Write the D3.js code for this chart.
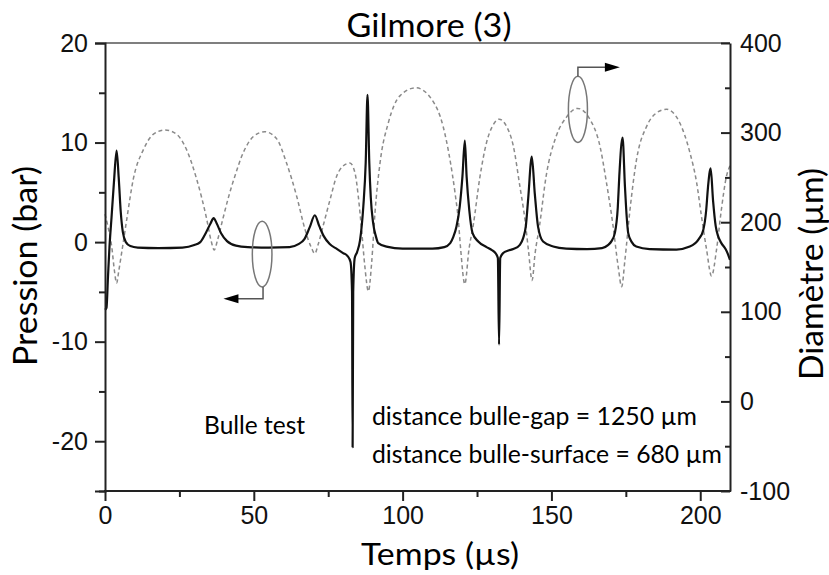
<!DOCTYPE html>
<html lang="fr">
<head>
  <meta charset="UTF-8">
  <title>Gilmore (3)</title>
  <script src="https://d3js.org/d3.v7.min.js"></script>
  <style>
    body { margin: 0; background: #fff; }
    svg { display: block; }
    .tick text { font-family: "Liberation Sans", Arial, sans-serif; font-size: 25px; fill: #111; }
    .axis path, .axis line { stroke: #222; stroke-width: 2px; }
    .lbl { font-family: Lato, "Open Sans", sans-serif; fill: #000; }
  </style>
</head>
<body>
<div id="chart"></div>
<script>
  // Temps (µs) / Pression (bar) : courbe pleine
  const pressure = [
    [0,-6.8],[0.5,-6.6],[1.0,-3.5],[1.5,-0.5],[2.2,2.5],[3.0,6.0],[3.9,9.2],[4.6,6.5],[5.3,3.0],[6.0,1.0],
    [7.0,0.0],[8.5,-0.4],[11,-0.55],[18,-0.6],[26,-0.55],[30,-0.3],[32,0.0],[34,1.0],[35.5,1.9],[36.5,2.4],
    [37.5,1.9],[39,0.9],[41,0.1],[44,-0.35],[48,-0.5],[55,-0.55],[62,-0.5],[65,-0.2],[67,0.3],[68.8,1.5],
    [70.5,2.7],[72,1.6],[73.5,0.6],[75.5,-0.2],[78,-0.7],[80,-1.1],[81.5,-1.4],[82.5,-2.0],[83.0,-5],[83.2,-20.6],
    [83.4,-5],[83.9,-1.6],[84.7,-1.0],[85.7,0.2],[86.8,3.6],[87.6,8],[88.2,14.8],[88.8,8],[89.3,4.5],[90.1,1.9],
    [91,0.6],[91.8,-0.1],[94.6,-0.45],[100,-0.65],[110,-0.65],[114,-0.5],[116,-0.1],[117,0.5],[118.1,1.56],[119.2,3.6],
    [120.1,6.6],[120.9,10.2],[121.5,6.6],[122.4,3.2],[123.5,0.9],[125.4,0.06],[128.2,-0.5],[130,-0.8],[131.2,-1.1],[132.0,-1.6],
    [132.4,-10.3],[132.8,-1.6],[133.8,-1.1],[135.5,-0.85],[137.2,-0.7],[139.4,-0.27],[140.5,0.4],[141.4,1.6],[142.2,4.4],[143.4,8.6],
    [144.4,4.9],[145.5,1.56],[147.2,0.06],[150.6,-0.44],[155,-0.65],[162,-0.7],[167,-0.6],[169,-0.3],[170.2,0.1],[171.3,0.9],
    [172.3,3.5],[172.8,6.6],[173.9,10.5],[174.7,5.6],[175.3,2.5],[175.8,0.9],[177,0],[178.5,-0.45],[183,-0.7],[192,-0.75],
    [196.5,-0.45],[199.5,0.3],[201,1.2],[202,3.2],[202.6,5.5],[203.5,7.4],[204.3,4.2],[205.2,1.6],[206,0.6],[207.1,-0.1],
    [208.5,-0.7],[209.3,-1.2],[210,-1.8]
  ];

  // Temps (µs) / Diamètre (µm) : courbe pointillée
  const diameter = [
    [0,209],[1,195],[2.25,173],[3.2,145],[3.9,132],[4.6,145],[5.6,166],[7.3,203],[9.5,248],[12.9,281],
    [16.2,298],[20.2,303],[24.1,298],[27.4,281],[30.8,248],[34.2,203],[35.6,180],[36.7,169],[37.8,180],[39.7,205],
    [41.5,228],[43.5,250],[46.5,278],[50,296],[53.7,301],[57.7,293],[61,266],[64.4,229],[67.2,192],[69.3,172],
    [70.5,165],[71.6,175],[73.3,196],[75.6,225],[77.8,251],[80.1,263],[82.3,266],[84,255],[85.1,229],[86.2,192],
    [87.3,151],[88.5,123],[89.6,155],[90.7,210],[92.4,266],[95.2,311],[99.1,341],[104.4,350],[109.8,337],[113.6,307],
    [115.9,270],[117.6,233],[118.7,203],[119.5,170],[120.9,131],[122.3,170],[123.7,196],[126,251],[128.2,289],[130.5,309],
    [132.4,315],[134.9,307],[137.2,285],[139.4,240],[141.1,203],[142.3,168],[143.5,135],[144.5,165],[146,196],[148.2,251],
    [151.6,296],[155,317],[158.8,327],[162.9,315],[166.3,285],[168.5,244],[170.7,196],[172.4,151],[173.6,128],[174.7,158],
    [176.4,214],[178.6,270],[182,307],[185.3,322],[188.7,326],[193.1,311],[196.5,278],[198.8,244],[200.4,207],[202.1,170],
    [203.8,140],[205.5,170],[207.1,214],[208.8,251],[210,263]
  ];

  const xTicks = [0, 50, 100, 150, 200];
  const xMinor = [25, 75, 125, 175];
  const yLeftTicks = [-20, -10, 0, 10, 20];
  const yLeftMinor = [-25, -15, -5, 5, 15];
  const yRightTicks = [-100, 0, 100, 200, 300, 400];
  const yRightMinor = [-50, 50, 150, 250, 350];

  const width = 829, height = 575;
  const margin = {top: 43, right: 99, bottom: 84, left: 105};
  const plain = d => String(d);   // trait d'union simple, comme l'original

  const svg = d3.select("#chart").append("svg")
    .attr("width", width)
    .attr("height", height);

  const x = d3.scaleLinear().domain([0, 210]).range([margin.left, width - margin.right]);
  const yL = d3.scaleLinear().domain([-25, 20]).range([height - margin.bottom, margin.top]);
  const yR = d3.scaleLinear().domain([-100, 400]).range([height - margin.bottom, margin.top]);

  // cadre du haut
  svg.append("line")
    .attr("x1", x(0)).attr("x2", x(210))
    .attr("y1", yL(20)).attr("y2", yL(20))
    .attr("stroke", "#555").attr("stroke-width", 1.5);

  // courbes
  const lineD = d3.line().x(d => x(d[0])).y(d => yR(d[1])).curve(d3.curveMonotoneX);
  const lineP = d3.line().x(d => x(d[0])).y(d => yL(d[1])).curve(d3.curveMonotoneX);

  svg.append("path")
    .datum(diameter)
    .attr("fill", "none")
    .attr("stroke", "#8a8a8a")
    .attr("stroke-width", 1.5)
    .attr("stroke-dasharray", "4,3")
    .attr("d", lineD);

  svg.append("path")
    .datum(pressure)
    .attr("fill", "none")
    .attr("stroke", "#111")
    .attr("stroke-width", 2.2)
    .attr("stroke-linejoin", "round")
    .attr("d", lineP);

  // axes
  const gx = svg.append("g").attr("class", "axis")
    .attr("transform", `translate(0,${yL(-25)})`);
  gx.call(d3.axisBottom(x).tickValues(xTicks).tickFormat(plain).tickSize(10).tickPadding(5));
  gx.call(g => g.select(".domain").attr("d", `M${x(0) - 1},0H${x(210) + 1}`));
  svg.append("g").attr("class", "axis")
    .attr("transform", `translate(0,${yL(-25)})`)
    .call(d3.axisBottom(x).tickValues(xMinor).tickSize(6).tickFormat(""))
    .call(g => g.select(".domain").remove());

  svg.append("g").attr("class", "axis")
    .attr("transform", `translate(${x(0)},0)`)
    .call(d3.axisLeft(yL).tickValues(yLeftTicks).tickFormat(plain).tickSize(10).tickPadding(7));
  svg.append("g").attr("class", "axis")
    .attr("transform", `translate(${x(0)},0)`)
    .call(d3.axisLeft(yL).tickValues(yLeftMinor).tickSize(6).tickFormat(""))
    .call(g => g.select(".domain").remove());

  svg.append("g").attr("class", "axis")
    .attr("transform", `translate(${x(210)},0)`)
    .call(d3.axisRight(yR).tickValues(yRightTicks).tickFormat(plain).tickSizeInner(-9).tickSizeOuter(0).tickPadding(10));
  svg.append("g").attr("class", "axis")
    .attr("transform", `translate(${x(210)},0)`)
    .call(d3.axisRight(yR).tickValues(yRightMinor).tickSizeInner(-5).tickSizeOuter(0).tickFormat(""))
    .call(g => g.select(".domain").remove());

  // titres
  svg.append("text").attr("class", "lbl")
    .attr("x", 429).attr("y", 37)
    .attr("text-anchor", "middle")
    .attr("font-size", 33)
    .attr("textLength", 165).attr("lengthAdjust", "spacingAndGlyphs")
    .text("Gilmore (3)");

  svg.append("text").attr("class", "lbl")
    .attr("x", 440).attr("y", 565)
    .attr("text-anchor", "middle")
    .attr("font-size", 30)
    .attr("textLength", 158).attr("lengthAdjust", "spacingAndGlyphs")
    .text("Temps (µs)");

  svg.append("text").attr("class", "lbl")
    .attr("transform", "translate(37,266) rotate(-90)")
    .attr("text-anchor", "middle")
    .attr("font-size", 32)
    .attr("textLength", 200).attr("lengthAdjust", "spacingAndGlyphs")
    .text("Pression (bar)");

  svg.append("text").attr("class", "lbl")
    .attr("transform", "translate(823,274) rotate(-90)")
    .attr("text-anchor", "middle")
    .attr("font-size", 33)
    .attr("textLength", 212).attr("lengthAdjust", "spacingAndGlyphs")
    .text("Diamètre (µm)");

  // annotations
  const notes = [
    {text: "Bulle test", t: 33.3, p: -19.3, len: 101},
    {text: "distance bulle-gap = 1250 µm", t: 89.7, p: -18.4, len: 325},
    {text: "distance bulle-surface = 680 µm", t: 89.7, p: -22.2, len: 350}
  ];
  svg.selectAll(".note").data(notes).enter().append("text")
    .attr("class", "lbl note")
    .attr("x", d => x(d.t)).attr("y", d => yL(d.p))
    .attr("font-size", 25)
    .attr("textLength", d => d.len).attr("lengthAdjust", "spacingAndGlyphs")
    .text(d => d.text);

  // ellipses + flèches
  const leftMark = {t: 52.8, p: -1.2, rt: 3.3, rp: 3.3, tLead: 53.1, pLead: -5.7, tTip: 39.8};
  const rightMark = {t: 158.9, d: 326, rt: 3.2, rd: 37, tLead: 158.9, dLead: 373, tTip: 173};

  svg.append("ellipse")
    .attr("cx", x(leftMark.t)).attr("cy", yL(leftMark.p))
    .attr("rx", x(leftMark.rt) - x(0)).attr("ry", yL(0) - yL(leftMark.rp))
    .attr("fill", "none").attr("stroke", "#777").attr("stroke-width", 1.5);
  svg.append("path")
    .attr("d", `M${x(leftMark.tLead)},${yL(leftMark.p - leftMark.rp)}V${yL(leftMark.pLead)}H${x(leftMark.tTip) + 12}`)
    .attr("fill", "none").attr("stroke", "#555").attr("stroke-width", 1.5);
  svg.append("path")
    .attr("d", `M${x(leftMark.tTip)},${yL(leftMark.pLead)}l15,-4.5v9z`)
    .attr("fill", "#000");

  svg.append("ellipse")
    .attr("cx", x(rightMark.t)).attr("cy", yR(rightMark.d))
    .attr("rx", x(rightMark.rt) - x(0)).attr("ry", yR(0) - yR(rightMark.rd))
    .attr("fill", "none").attr("stroke", "#777").attr("stroke-width", 1.5);
  svg.append("path")
    .attr("d", `M${x(rightMark.tLead)},${yR(rightMark.d + rightMark.rd)}V${yR(rightMark.dLead)}H${x(rightMark.tTip) - 12}`)
    .attr("fill", "none").attr("stroke", "#555").attr("stroke-width", 1.5);
  svg.append("path")
    .attr("d", `M${x(rightMark.tTip)},${yR(rightMark.dLead)}l-15,-4.5v9z`)
    .attr("fill", "#000");
</script>
</body>
</html>
